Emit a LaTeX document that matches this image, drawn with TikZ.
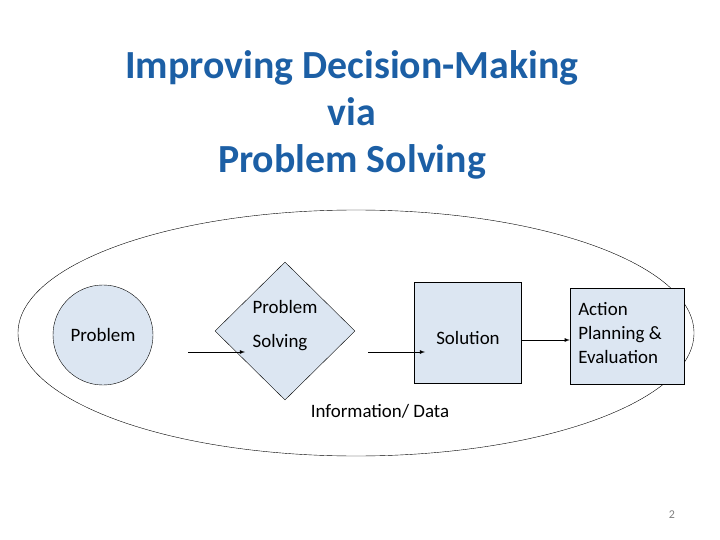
\documentclass[tikz,border=0pt]{standalone}
\usepackage{fontspec}
\setmainfont{Carlito}
\usetikzlibrary{shapes.geometric}
\definecolor{titleblue}{RGB}{28,95,165}
\definecolor{boxfill}{RGB}{220,230,242}
\tikzset{
  stepbox/.style={draw,fill=boxfill,inner sep=0pt},
  lbl/.style={font=\fontsize{19}{24}\selectfont},
  flow/.style={->,>=latex,thick}
}
\begin{document}
\begin{tikzpicture}[x=1bp,y=-1bp]
\useasboundingbox (0,0) rectangle (720,540);

\node[text=titleblue,font=\bfseries\fontsize{40}{47}\selectfont,align=center] (title) at (352,115) {Improving Decision-Making\\via\\Problem Solving};

\draw (356,333) ellipse [x radius=338,y radius=123];

\node[stepbox,circle,minimum size=100bp] (prob) at (103,335) {};
\node[lbl] at (prob) {Problem};
\node[stepbox,diamond,minimum width=140bp,minimum height=138bp] (solv) at (285,331) {};
\node[lbl] at (285,307) {Problem};
\node[lbl] at (280,343) {Solving};
\node[stepbox,minimum width=107bp,minimum height=101bp] (sol) at (468,333) {};
\node[lbl] at (468,338) {Solution};
\node[stepbox,minimum width=114bp,minimum height=96bp] (act) at (627,336) {};
\node[lbl,align=left] at (620,333) {Action\\Planning \&\\Evaluation};

\coordinate (a1) at (188,352); \coordinate (a2) at (245,352);
\coordinate (b1) at (368,352); \coordinate (b2) at (425,352);
\draw[flow] (a1) -- (a2);
\draw[flow] (b1) -- (b2);
\draw[flow] (sol.east |- 0,340) -- (act.west |- 0,340);

\node[lbl] (info) at (380,411) {Information/ Data};
\node[text=gray,font=\fontsize{12}{14}\selectfont] (page) at (672,515) {2};
\end{tikzpicture}
\end{document}
